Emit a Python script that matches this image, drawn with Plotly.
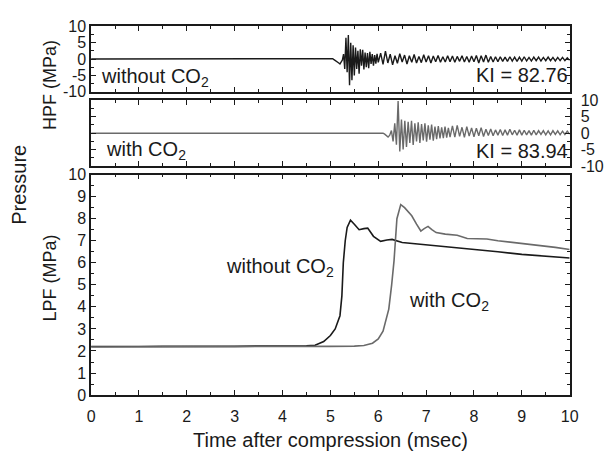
import plotly.graph_objects as go

# ---------------- data ----------------
# HPF, without CO2 (MPa)
hpf1_base_t = [0.0, 5.0]
hpf1_base_v = [0.0, 0.0]
hpf1_a_start, hpf1_a_dt = 5.0, 0.025
hpf1_a_v = [0, 0, 0.1, -0.2, -0.4, -0.6, -0.9, -1.2, -1.5, -1.0, -0.3, 1.5, -3.0, 6.5, -4.0, 7.3,
            -8.0, 5.0, -6.5, 4.2, -5.0, 3.5, -3.0, 2.5, -4.5, 3.0, -2.0, 2.8, -3.2, 2.0, -2.5, 1.8,
            -2.8, 2.2, -1.5, 1.5, -2.0, 1.2, -1.4, 1.6, -1.0]
hpf1_b_start, hpf1_b_dt = 6.05, 0.05
hpf1_b_v = [1.8, -1.6, 2.4, -1.2, 1.5, -1.8, 1.0, -1.3, 1.6, -0.9, 1.2, -1.5, 1.0, -1.0, 1.4, -1.2,
            0.8, -1.1, 1.3, -0.9, 1.0, -1.2, 0.9, -0.8, 1.1, -1.0, 0.7, -0.9, 1.0, -0.8, 0.9, -1.0,
            0.8, -0.7, 1.0, -0.9, 0.8, -1.0, 0.9, -0.8, 1.1, -1.2, 1.0, -0.9, 1.2, -1.0, 0.8, -0.9,
            0.7, -0.8, 0.7, -0.7, 0.6, -0.7, 0.7, -0.6, 0.6, -0.7, 0.6, -0.6, 0.7, -0.6, 0.5, -0.6,
            0.6, -0.5, 0.6, -0.6, 0.5, -0.5, 0.6, -0.5, 0.5, -0.6, 0.5, -0.5, 0.5, -0.5, 0.4, -0.4]

# HPF, with CO2 (MPa)
hpf2_base_t = [0.0, 6.1]
hpf2_base_v = [0.0, 0.0]
hpf2_a_start, hpf2_a_dt = 6.1, 0.035
hpf2_a_v = [0, -0.3, -0.9, -1.2, -0.6, 0.8, -2.5, 3.0, -3.5, 9.8, -5.6, 4.2, -5.0, 3.8, -4.2, 3.5,
            -3.0, 3.8, -3.6, 3.0, -2.5, 3.3, -3.0, 2.8, -2.2, 3.0, -2.6, 2.4, -2.0, 2.6, -2.3, 2.0,
            -1.8, 2.2, -1.6, 1.8, -1.5, 2.0, -1.4, 1.6, -1.2]
hpf2_b_start, hpf2_b_dt = 7.55, 0.05
hpf2_b_v = [2.2, -1.2, 2.4, -1.0, 1.8, -1.3, 2.0, -0.9, 1.6, -1.1, 1.5, -0.8, 1.7, -1.0, 1.2, -0.7,
            1.3, -0.8, 1.0, -0.6, 1.1, -0.7, 1.0, -0.6, 1.2, -0.5, 0.9, -0.6, 1.0, -0.6, 0.9, -0.5,
            0.8, -0.6, 0.9, -0.5, 0.8, -0.4, 0.8, -0.5, 0.7, -0.5, 0.8, -0.4, 0.7, -0.5, 0.6, -0.4,
            0.6, -0.3]

# LPF (MPa)
lpf1_t = [0, 0.5, 1, 1.5, 2, 2.5, 3, 3.5, 4, 4.3, 4.5, 4.68, 4.86, 5.0, 5.1, 5.2, 5.24, 5.27, 5.31,
          5.35, 5.42, 5.5, 5.6, 5.7, 5.78, 5.9, 6.05, 6.18, 6.29, 6.5, 7.0, 7.5, 8.0, 8.5, 9.0, 9.5, 10.0]
lpf1_v = [2.2, 2.19, 2.2, 2.21, 2.2, 2.22, 2.21, 2.22, 2.22, 2.23, 2.24, 2.26, 2.43, 2.7, 3.0, 3.6,
          4.5, 6.0, 7.0, 7.6, 7.93, 7.75, 7.5, 7.55, 7.57, 7.2, 6.97, 7.03, 7.06, 6.92, 6.82, 6.7,
          6.6, 6.5, 6.38, 6.3, 6.22]
lpf2_t = [0, 0.5, 1, 1.5, 2, 2.5, 3, 3.5, 4, 4.5, 5.0, 5.5, 5.7, 5.88, 6.0, 6.1, 6.15, 6.22, 6.28,
          6.33, 6.39, 6.47, 6.55, 6.7, 6.8, 6.89, 6.96, 7.04, 7.12, 7.21, 7.4, 7.65, 7.86, 8.27,
          8.5, 8.81, 9.1, 9.36, 9.7, 10.0]
lpf2_v = [2.18, 2.18, 2.19, 2.2, 2.19, 2.2, 2.21, 2.2, 2.21, 2.21, 2.21, 2.22, 2.25, 2.35, 2.55, 2.9,
          3.3, 3.9, 5.0, 6.1, 8.0, 8.64, 8.5, 8.13, 7.75, 7.44, 7.55, 7.65, 7.5, 7.37, 7.3, 7.25,
          7.1, 7.08, 7.0, 6.93, 6.85, 6.78, 6.7, 6.6]

# tick labels
hpf_tickvals = [-10, -5, 0, 5, 10]
hpf_ticktext = ["-10", "-5", "0", "5", "10"]


def seg(start, dt, vals):
    return [round(start + i * dt, 4) for i in range(len(vals))]


hpf1_t = hpf1_base_t + seg(hpf1_a_start, hpf1_a_dt, hpf1_a_v)[1:] + seg(hpf1_b_start, hpf1_b_dt, hpf1_b_v)
hpf1_y = hpf1_base_v + hpf1_a_v[1:] + hpf1_b_v
hpf2_t = hpf2_base_t + seg(hpf2_a_start, hpf2_a_dt, hpf2_a_v)[1:] + seg(hpf2_b_start, hpf2_b_dt, hpf2_b_v)
hpf2_y = hpf2_base_v + hpf2_a_v[1:] + hpf2_b_v

BLACK = "#1a1a1a"
GRAY = "#6a6a6a"
FONT = "Liberation Sans, Arial, sans-serif"
W, H = 610, 458

fig = go.Figure()
fig.add_trace(go.Scatter(x=lpf1_t, y=lpf1_v, mode="lines", line=dict(color=BLACK, width=1.6),
                         xaxis="x", yaxis="y", showlegend=False))
fig.add_trace(go.Scatter(x=lpf2_t, y=lpf2_v, mode="lines", line=dict(color=GRAY, width=1.6),
                         xaxis="x", yaxis="y", showlegend=False))
fig.add_trace(go.Scatter(x=hpf2_t, y=hpf2_y, mode="lines", line=dict(color=GRAY, width=1.4),
                         xaxis="x2", yaxis="y2", showlegend=False))
fig.add_trace(go.Scatter(x=hpf1_t, y=hpf1_y, mode="lines", line=dict(color=BLACK, width=1.4),
                         xaxis="x3", yaxis="y3", showlegend=False))

xdom = [89 / W, 578 / W]


def ydom(top_px, bot_px):
    return [1 - bot_px / H, 1 - top_px / H]


common = dict(showline=True, linecolor=BLACK, linewidth=1.5, mirror="ticks", ticks="inside",
              tickcolor=BLACK, tickwidth=1.2, showgrid=False, zeroline=False,
              tickfont=dict(family=FONT, size=16, color=BLACK))

xcommon = dict(common, range=[0, 10], dtick=1, tick0=0, ticklen=5,
               minor=dict(dtick=0.5, ticks="inside", ticklen=3, tickcolor=BLACK, tickwidth=1))

fig.update_layout(
    width=W, height=H, margin=dict(l=0, r=0, t=0, b=0),
    paper_bgcolor="white", plot_bgcolor="white",
    font=dict(family=FONT, color=BLACK),
    xaxis=dict(xcommon, domain=xdom, anchor="y", showticklabels=True, ticklabelstandoff=6),
    xaxis2=dict(xcommon, domain=xdom, anchor="y2", showticklabels=False),
    xaxis3=dict(xcommon, domain=xdom, anchor="y3", showticklabels=False),
    yaxis=dict(common, domain=ydom(173, 402), anchor="x", range=[0, 10], dtick=1, ticklen=5,
               minor=dict(dtick=0.5, ticks="inside", ticklen=3, tickcolor=BLACK, tickwidth=1)),
    yaxis2=dict(common, domain=ydom(96, 164), anchor="x2", range=[-10, 10], ticklen=5,
                tickmode="array", tickvals=hpf_tickvals, ticktext=hpf_ticktext,
                side="right", ticklabelstandoff=6,
                minor=dict(dtick=2.5, ticks="inside", ticklen=3, tickcolor=BLACK, tickwidth=1)),
    yaxis3=dict(common, domain=ydom(19, 87), anchor="x3", range=[-10, 10], ticklen=5,
                tickmode="array", tickvals=hpf_tickvals, ticktext=hpf_ticktext,
                minor=dict(dtick=2.5, ticks="inside", ticklen=3, tickcolor=BLACK, tickwidth=1)),
)


def ann(text, x_px, y_px, size=20, xanchor="left", angle=0, yanchor="middle"):
    fig.add_annotation(text=text, x=x_px / W, y=1 - y_px / H, xref="paper", yref="paper",
                       xanchor=xanchor, yanchor=yanchor, showarrow=False, textangle=angle,
                       borderpad=0, font=dict(family=FONT, size=size, color=BLACK))


ann("without CO<sub>2</sub>", 98, 72)
ann("KI = 82.76", 577, 70, xanchor="right")
ann("with CO<sub>2</sub>", 103, 148)
ann("KI = 83.94", 577, 148, xanchor="right")
ann("without CO<sub>2</sub>", 226, 270)
ann("with CO<sub>2</sub>", 413, 305)
ann("HPF (MPa)", 47, 80, size=18, xanchor="center", angle=-90)
ann("LPF (MPa)", 47, 280, size=18, xanchor="center", angle=-90)
ann("Pressure", 16, 184, size=20, xanchor="center", angle=-90)
ann("Time after compression (msec)", 334, 436, size=20, xanchor="center", yanchor="top")

fig.write_html("out.html")
